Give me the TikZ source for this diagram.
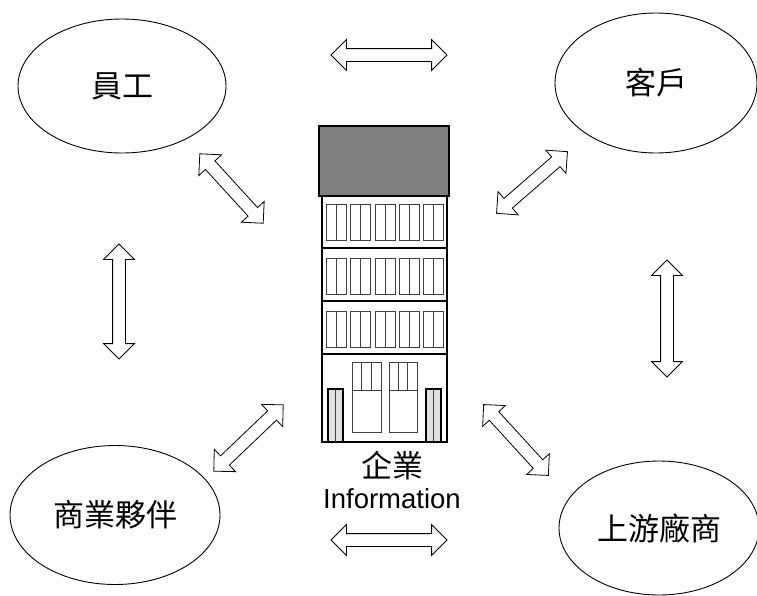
\documentclass[tikz,border=0pt]{standalone}
\usepackage{fontspec}
\setmainfont{Liberation Sans}
\newfontfamily\cjk{Noto Sans CJK TC}
\usetikzlibrary{positioning, shapes.geometric, shapes.arrows}
\definecolor{roofGray}{HTML}{808080}
\definecolor{panelGray}{HTML}{E0E0E0}
\definecolor{lineDark}{HTML}{404040}
\tikzset{
  party/.style={ellipse, draw=black, line width=0.9pt, inner sep=0pt,
                font=\cjk\fontsize{31}{34}\selectfont},
  flow/.style={double arrow, draw=black, fill=white, line width=0.8pt,
               inner sep=6pt, double arrow head extend=9pt,
               double arrow tip angle=90, double arrow head indent=0pt},
  wall/.style={draw=black, line width=1.6pt},
  sash/.style={draw=lineDark, line width=0.9pt},
}
\begin{document}
\begin{tikzpicture}[x=1pt, y=-1pt, node distance=0pt]
  \useasboundingbox (0,0) rectangle (757,595);

  % the four parties
  \node[party, minimum width=208pt, minimum height=134pt] (staff) at (122,86) {員工};
  \node[party, minimum width=202pt, minimum height=140pt] (client) at (656,83) {客戶};
  \node[party, minimum width=210pt, minimum height=139pt] (partner) at (115,515) {商業夥伴};
  \node[party, minimum width=200pt, minimum height=134pt] (supplier) at (659,528) {上游廠商};

  % exchange arrows
  \node[flow, minimum height=116pt] (aTop) at (389,55) {};
  \node[flow, minimum height=116pt] (aBot) at (389,540) {};
  \node[flow, minimum height=115pt, rotate=90] (aLeft) at (119,301.5) {};
  \node[flow, minimum height=117pt, rotate=90] (aRight) at (667,318.5) {};
  \node[flow, minimum height=94pt, rotate=-47.6] (aStaff) at (231.5,188.5) {};
  \node[flow, minimum height=94pt, rotate=41] (aClient) at (532,182.5) {};
  \node[flow, minimum height=96pt, rotate=43.7] (aPartner) at (248.5,438) {};
  \node[flow, minimum height=96pt, rotate=-47.6] (aSupplier) at (516,440) {};

  % building
  \draw[wall, fill=roofGray] (319,126) rectangle (449,196);
  \draw[wall] (322,196) rectangle (447,442);
  \foreach \y in {248,301,354}
    \draw[wall, line width=1.2pt] (322,\y) -- (447,\y);
  \foreach \y in {204,258,311}
    \foreach \i in {0,...,4} {
      \pgfmathsetmacro\xl{326.7+24.2*\i}
      \draw[sash] (\xl,\y) rectangle ++(20,36);
      \draw[sash] (\xl+10,\y) -- ++(0,36);
    }
  % doors
  \foreach \xl/\xr in {352/381, 389/417} {
    \draw[sash] (\xl,362) rectangle (\xr,432);
    \draw[sash] (\xl,390) -- (\xr,390);
    \draw[sash] ({\xl+(\xr-\xl)/3},362) -- ({\xl+(\xr-\xl)/3},390);
    \draw[sash] ({\xl+2*(\xr-\xl)/3},362) -- ({\xl+2*(\xr-\xl)/3},390);
  }
  % side panels
  \foreach \xl in {328,426} {
    \draw[wall, line width=1.4pt, fill=panelGray] (\xl,389) rectangle ++(15,53);
    \draw[sash] (\xl+7.5,389) -- ++(0,53);
  }

  \node[font=\cjk\fontsize{31}{34}\selectfont, inner sep=0pt] (bldName) at (392,466) {企業};
  \node[font=\fontsize{27.5}{30}\selectfont, inner sep=0pt, below=8pt of bldName] (bldInfo) {Information};
\end{tikzpicture}
\end{document}
